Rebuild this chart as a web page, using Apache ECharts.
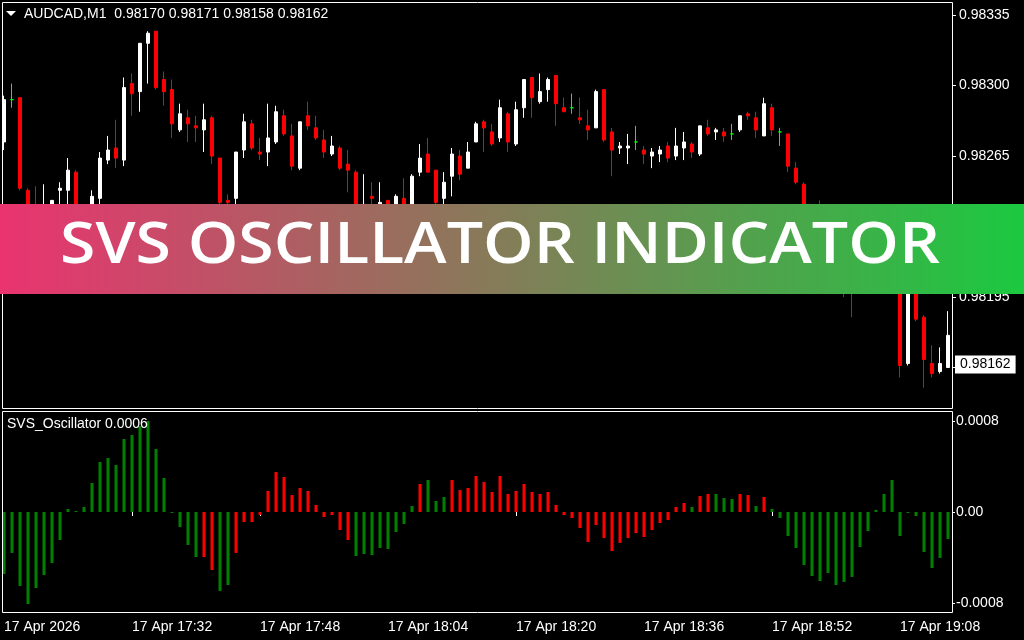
<!DOCTYPE html>
<html>
<head>
<meta charset="utf-8">
<script src="https://cdn.jsdelivr.net/npm/echarts@6/dist/echarts.min.js"></script>
<style>
html,body{margin:0;padding:0;background:#000;}
#chart{width:1024px;height:640px;}
</style>
</head>
<body>
<div id="chart"></div>
<script>
// ---------------- DATA ----------------
const symbolName = 'AUDCAD';
const timeframe = 'M1';
const headerOHLC = [0.98170, 0.98171, 0.98158, 0.98162];
const bidPrice = 0.98162;
const bannerTitle = 'SVS OSCILLATOR INDICATOR';
const oscName = 'SVS_Oscillator';
const oscReadout = '0.0006';
const dateLabel = '17 Apr';
const yearLabel = '2026';

const priceTicks = [0.98160, 0.98195, 0.98230, 0.98265, 0.98300, 0.98335];
const oscTicks = [-0.0008, 0, 0.0008];

const times = [
 '17:16','17:17','17:18','17:19','17:20','17:21','17:22','17:23','17:24','17:25','17:26','17:27','17:28','17:29','17:30','17:31',
 '17:32','17:33','17:34','17:35','17:36','17:37','17:38','17:39','17:40','17:41','17:42','17:43','17:44','17:45','17:46','17:47',
 '17:48','17:49','17:50','17:51','17:52','17:53','17:54','17:55','17:56','17:57','17:58','17:59','18:00','18:01','18:02','18:03',
 '18:04','18:05','18:06','18:07','18:08','18:09','18:10','18:11','18:12','18:13','18:14','18:15','18:16','18:17','18:18','18:19',
 '18:20','18:21','18:22','18:23','18:24','18:25','18:26','18:27','18:28','18:29','18:30','18:31','18:32','18:33','18:34','18:35',
 '18:36','18:37','18:38','18:39','18:40','18:41','18:42','18:43','18:44','18:45','18:46','18:47','18:48','18:49','18:50','18:51',
 '18:52','18:53','18:54','18:55','18:56','18:57','18:58','18:59','19:00','19:01','19:02','19:03','19:04','19:05','19:06','19:07',
 '19:08','19:09','19:10','19:11','19:12','19:13','19:14'
];

const open = [
 0.98272,0.98293,0.98294,0.98248,0.98232,0.98221,0.98231,0.98248,0.98248,0.98257,
 0.98229,0.98235,0.98244,0.98263,0.98269,0.98263,0.98301,0.98297,0.98321,0.98327,
 0.98303,0.98298,0.98278,0.98284,0.98280,0.98278,0.98284,0.98264,0.98243,0.98244,
 0.98268,0.98281,0.98267,0.98267,0.98272,0.98285,0.98275,0.98259,0.98285,0.98279,
 0.98273,0.98266,0.98269,0.98261,0.98257,0.98234,0.98245,0.98238,0.98243,0.98238,
 0.98244,0.98238,0.98257,0.98266,0.98258,0.98244,0.98255,0.98265,0.98259,0.98272,
 0.98282,0.98277,0.98274,0.98286,0.98271,0.98289,0.98304,0.98292,0.98298,0.98305,
 0.98289,0.98289,0.98284,0.98280,0.98279,0.98298,0.98277,0.98269,0.98269,0.98272,
 0.98268,0.98265,0.98266,0.98270,0.98265,0.98269,0.98271,0.98266,0.98279,0.98277,
 0.98277,0.98276,0.98278,0.98286,0.98284,0.98275,0.98289,0.98277,0.98276,0.98259,
 0.98251,0.98229,0.98224,0.98217,0.98222,0.98212,0.98204,0.98199,0.98207,0.98201,
 0.98208,0.98215,0.98206,0.98162,0.98202,0.98185,0.98162,0.98158,0.98160
];
const high = [
 0.98295,0.98301,0.98294,0.98249,0.98250,0.98251,0.98243,0.98252,0.98264,0.98258,
 0.98239,0.98248,0.98267,0.98275,0.98283,0.98304,0.98306,0.98321,0.98327,0.98327,
 0.98307,0.98303,0.98291,0.98288,0.98285,0.98291,0.98285,0.98264,0.98246,0.98267,
 0.98286,0.98283,0.98274,0.98291,0.98290,0.98288,0.98281,0.98282,0.98292,0.98285,
 0.98278,0.98275,0.98270,0.98268,0.98258,0.98256,0.98252,0.98252,0.98243,0.98246,
 0.98254,0.98256,0.98271,0.98274,0.98258,0.98257,0.98269,0.98268,0.98272,0.98282,
 0.98283,0.98281,0.98293,0.98287,0.98292,0.98303,0.98304,0.98306,0.98304,0.98305,
 0.98294,0.98296,0.98294,0.98288,0.98298,0.98298,0.98279,0.98272,0.98276,0.98280,
 0.98270,0.98269,0.98270,0.98272,0.98279,0.98277,0.98272,0.98280,0.98283,0.98279,
 0.98279,0.98281,0.98285,0.98287,0.98287,0.98294,0.98291,0.98279,0.98276,0.98262,
 0.98252,0.98241,0.98243,0.98227,0.98225,0.98216,0.98208,0.98212,0.98210,0.98214,
 0.98219,0.98218,0.98209,0.98207,0.98205,0.98186,0.98171,0.98170,0.98188
];
const low = [
 0.98268,0.98289,0.98248,0.98229,0.98221,0.98218,0.98228,0.98238,0.98238,0.98233,
 0.98227,0.98233,0.98241,0.98261,0.98259,0.98260,0.98285,0.98287,0.98301,0.98298,
 0.98290,0.98274,0.98277,0.98272,0.98272,0.98267,0.98261,0.98239,0.98239,0.98239,
 0.98264,0.98268,0.98263,0.98260,0.98271,0.98275,0.98258,0.98258,0.98278,0.98273,
 0.98264,0.98265,0.98258,0.98247,0.98233,0.98232,0.98238,0.98236,0.98235,0.98236,
 0.98236,0.98237,0.98255,0.98257,0.98241,0.98241,0.98245,0.98253,0.98259,0.98272,
 0.98267,0.98270,0.98272,0.98267,0.98270,0.98284,0.98284,0.98291,0.98292,0.98280,
 0.98287,0.98286,0.98281,0.98273,0.98279,0.98272,0.98255,0.98266,0.98261,0.98268,
 0.98261,0.98259,0.98262,0.98262,0.98263,0.98263,0.98264,0.98265,0.98275,0.98273,
 0.98272,0.98273,0.98277,0.98283,0.98274,0.98275,0.98275,0.98270,0.98257,0.98251,
 0.98228,0.98219,0.98216,0.98214,0.98209,0.98195,0.98185,0.98197,0.98198,0.98198,
 0.98203,0.98201,0.98155,0.98161,0.98183,0.98150,0.98155,0.98157,0.98160
];
const close = [
 0.98293,0.98293,0.98249,0.98232,0.98224,0.98236,0.98243,0.98249,0.98258,0.98236,
 0.98236,0.98245,0.98264,0.98268,0.98264,0.98299,0.98296,0.98321,0.98326,0.98299,
 0.98297,0.98281,0.98286,0.98281,0.98279,0.98283,0.98265,0.98242,0.98242,0.98267,
 0.98282,0.98269,0.98266,0.98274,0.98287,0.98276,0.98260,0.98282,0.98280,0.98274,
 0.98267,0.98270,0.98259,0.98258,0.98236,0.98241,0.98244,0.98242,0.98237,0.98245,
 0.98238,0.98255,0.98264,0.98257,0.98242,0.98252,0.98266,0.98256,0.98267,0.98281,
 0.98279,0.98271,0.98289,0.98272,0.98288,0.98303,0.98294,0.98297,0.98303,0.98291,
 0.98287,0.98289,0.98283,0.98278,0.98297,0.98273,0.98268,0.98270,0.98270,0.98272,
 0.98266,0.98267,0.98268,0.98264,0.98270,0.98272,0.98267,0.98280,0.98276,0.98278,
 0.98275,0.98276,0.98285,0.98285,0.98278,0.98291,0.98278,0.98277,0.98260,0.98252,
 0.98231,0.98223,0.98218,0.98223,0.98212,0.98203,0.98198,0.98208,0.98200,0.98209,
 0.98216,0.98206,0.98161,0.98203,0.98184,0.98164,0.98157,0.98162,0.98176
];

// oscillator histogram values and which indicator buffer (G = green, R = red) holds each bar
const svsValues = [
 -0.000545,-0.000360,-0.000650,-0.000809,-0.000668,-0.000554,-0.000448,-0.000246,0.000026,0.000009,
 0.000044,0.000255,0.000440,0.000475,0.000413,0.000642,0.000677,0.000756,0.000800,0.000554,
 0.000299,-0.000009,-0.000132,-0.000290,-0.000396,-0.000396,-0.000510,-0.000694,-0.000642,-0.000360,
 -0.000088,-0.000088,-0.000026,0.000185,0.000352,0.000308,0.000149,0.000211,0.000185,0.000062,
 -0.000044,-0.000026,-0.000158,-0.000246,-0.000387,-0.000369,-0.000378,-0.000316,-0.000325,-0.000176,
 -0.000105,0.000053,0.000246,0.000281,0.000097,0.000132,0.000281,0.000193,0.000211,0.000316,
 0.000264,0.000176,0.000316,0.000158,0.000185,0.000246,0.000176,0.000158,0.000176,0.000062,
 -0.000026,-0.000053,-0.000141,-0.000264,-0.000114,-0.000229,-0.000343,-0.000272,-0.000229,-0.000185,
 -0.000220,-0.000158,-0.000097,-0.000070,0.000044,0.000079,0.000044,0.000141,0.000158,0.000158,
 0.000123,0.000114,0.000158,0.000149,0.000053,0.000132,0.000026,-0.000053,-0.000211,-0.000316,
 -0.000466,-0.000563,-0.000607,-0.000536,-0.000642,-0.000615,-0.000571,-0.000308,-0.000167,0.000018,
 0.000158,0.000281,-0.000211,-0.000009,-0.000035,-0.000352,-0.000492,-0.000404,-0.000237
];
const svsBuffer = [
 'G','G','G','G','G','G','G','G','G','G',
 'G','G','G','G','G','G','G','G','G','G',
 'G','G','G','G','G','R','R','G','G','R',
 'R','R','R','R','R','R','R','R','R','R',
 'R','R','R','R','G','G','G','G','G','G',
 'G','G','R','G','G','G','R','R','R','R',
 'R','R','R','R','R','R','R','R','R','R',
 'R','R','R','R','R','R','R','R','R','R',
 'R','R','R','R','R','R','G','R','R','G',
 'G','G','R','R','G','R','G','G','G','G',
 'G','G','G','G','G','G','G','G','G','G',
 'G','G','G','G','G','G','G','G','G'
];

// ---------------- CHART ----------------
const FONT = 'Liberation Sans';
const WHITE = '#ffffff';
const BULL = '#ffffff';
const BEAR = '#ff0000';
const DOJI = '#00ff00';

const candleData = open.map((o, i) => {
  const item = { value: [o, close[i], low[i], high[i]] };
  if (o === close[i]) {
    item.itemStyle = { color: DOJI, color0: DOJI, borderColor: DOJI, borderColor0: DOJI, borderColorDoji: DOJI };
  }
  return item;
});
const greenBars = svsValues.map((v, i) => svsBuffer[i] === 'G' ? v : '-');
const redBars = svsValues.map((v, i) => svsBuffer[i] === 'R' ? v : '-');

// banner text width fitting
const meas = document.createElement('canvas').getContext('2d');
meas.font = '600 56px "Open Sans"';
const bannerScale = 880 / meas.measureText(bannerTitle).width;

const chart = echarts.init(document.getElementById('chart'), null, { renderer: 'canvas' });
chart.setOption({
  backgroundColor: '#000000',
  animation: false,
  grid: [
    { left: 0, width: 952, top: 3, height: 405, show: false },
    { left: 0, width: 952, top: 412, height: 200, show: false }
  ],
  xAxis: [
    { type: 'category', gridIndex: 0, data: times, boundaryGap: true, show: false },
    {
      type: 'category', gridIndex: 1, data: times, boundaryGap: true,
      axisLine: { show: false },
      axisTick: { show: true, interval: 15, alignWithLabel: true, length: 4, lineStyle: { color: WHITE } },
      axisLabel: {
        interval: 15, align: 'left', margin: 8, color: WHITE, fontFamily: FONT, fontSize: 14,
        formatter: (v, i) => i === 0 ? dateLabel + ' ' + yearLabel : dateLabel + ' ' + v
      },
      splitLine: { show: false }
    }
  ],
  yAxis: [
    {
      type: 'value', gridIndex: 0, position: 'right', min: 0.981399, max: 0.98341,
      splitLine: { show: false }, axisLine: { show: false },
      axisTick: { show: true, customValues: priceTicks, length: 4, lineStyle: { color: WHITE } },
      axisLabel: { customValues: priceTicks, formatter: v => v.toFixed(5), color: WHITE, fontFamily: FONT, fontSize: 14, margin: 7 }
    },
    {
      type: 'value', gridIndex: 1, position: 'right', min: -0.000879, max: 0.000879,
      splitLine: { show: false }, axisLine: { show: false },
      axisTick: { show: true, customValues: oscTicks, length: 3, lineStyle: { color: WHITE } },
      axisLabel: {
        customValues: oscTicks, color: WHITE, fontFamily: FONT, fontSize: 14, margin: 4,
        formatter: v => Math.abs(v) < 1e-12 ? '0.00' : v.toFixed(4)
      }
    }
  ],
  series: [
    {
      type: 'candlestick', xAxisIndex: 0, yAxisIndex: 0, data: candleData, barWidth: 4,
      itemStyle: { color: BULL, color0: BEAR, borderColor: BULL, borderColor0: BEAR, borderColorDoji: DOJI, borderWidth: 1 }
    },
    { type: 'bar', name: 'SVS up', xAxisIndex: 1, yAxisIndex: 1, data: greenBars, barWidth: 3, barGap: '-100%', itemStyle: { color: '#008000' } },
    { type: 'bar', name: 'SVS down', xAxisIndex: 1, yAxisIndex: 1, data: redBars, barWidth: 3, barGap: '-100%', itemStyle: { color: '#ff0000' } }
  ],
  graphic: [
    { id: 'frameMain', type: 'rect', z: 50, silent: true, shape: { x: 2.5, y: 2.5, width: 950, height: 406 }, style: { fill: null, stroke: WHITE, lineWidth: 1 } },
    { id: 'frameOsc', type: 'rect', z: 50, silent: true, shape: { x: 2.5, y: 411.5, width: 950, height: 201 }, style: { fill: null, stroke: WHITE, lineWidth: 1 } },
    { id: 'tri', type: 'polygon', z: 50, silent: true, shape: { points: [[6, 11], [16, 11], [11, 16]] }, style: { fill: WHITE } },
    {
      id: 'header', type: 'text', z: 50, silent: true, x: 24, y: 14,
      style: { text: symbolName + ',' + timeframe + '  ' + headerOHLC.map(v => v.toFixed(5)).join(' '), fill: WHITE, font: '14px "' + FONT + '"', textAlign: 'left', textVerticalAlign: 'middle' }
    },
    {
      id: 'oscLabel', type: 'text', z: 50, silent: true, x: 7, y: 424,
      style: { text: oscName + ' ' + oscReadout, fill: WHITE, font: '14px "' + FONT + '"', textAlign: 'left', textVerticalAlign: 'middle' }
    },
    {
      id: 'banner', type: 'rect', z: 100, silent: true, shape: { x: 0, y: 204, width: 1024, height: 90 },
      style: {
        fill: new echarts.graphic.LinearGradient(0, 0, 1, 0, [
          { offset: 0, color: '#ea3370' },
          { offset: 0.5, color: '#827e58' },
          { offset: 1, color: '#1bc940' }
        ])
      }
    },
    {
      id: 'bannerText', type: 'text', z: 101, silent: true, x: 500, y: 247, scaleX: bannerScale, scaleY: 1.02,
      style: { text: bannerTitle, fill: '#ffffff', font: '600 56px "Open Sans"', textAlign: 'center', textVerticalAlign: 'middle' }
    }
  ]
});

// current bid label, placed through the price axis scale
const bidY = chart.convertToPixel({ yAxisIndex: 0 }, bidPrice);
chart.setOption({
  graphic: [{
    id: 'bidLabel', type: 'text', z: 60, silent: true, x: 955, y: bidY + 1,
    style: {
      text: bidPrice.toFixed(5), fill: '#000000', font: '14px "' + FONT + '"',
      textAlign: 'left', textVerticalAlign: 'middle',
      backgroundColor: '#ffffff', padding: [2, 5, 2, 5]
    }
  }]
});
</script>
</body>
</html>
